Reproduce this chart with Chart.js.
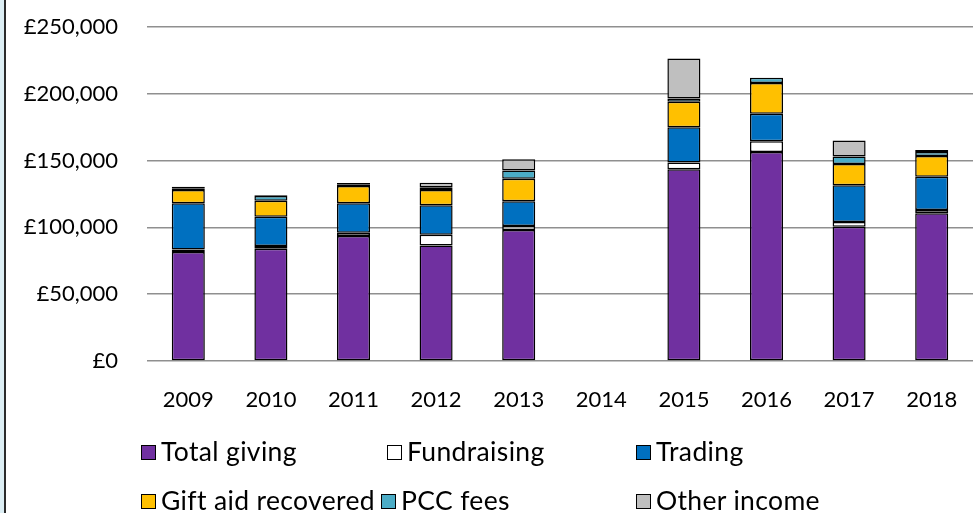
<!DOCTYPE html>
<html>
<head>
<meta charset="utf-8">
<script src="https://cdn.jsdelivr.net/npm/chart.js@4.4.1/dist/chart.umd.min.js"></script>
<style>
  html, body { margin: 0; padding: 0; background: #fff; }
  #wrap { position: relative; width: 974px; height: 513px; overflow: hidden; }
  #frame { position: absolute; left: 0; top: 0; width: 4px; height: 513px; background: #DCEEF4; border-right: 2px solid #2b2b2b; }
  canvas { position: absolute; left: 0; top: 0; }
  .leg { position: absolute; font-family: Lato, sans-serif; font-size: 26.5px; letter-spacing: 0.35px; color: #000; white-space: nowrap; line-height: 30px; }
  .leg i { display: inline-block; width: 13px; height: 13px; border: 1.5px solid #000; vertical-align: middle; margin-right: 5px; position: relative; top: -2px; }
</style>
</head>
<body>
<div id="wrap">
  <canvas id="c" width="974" height="513"></canvas>
  <div id="frame"></div>
  <div id="legend"></div>
</div>
<script>
const years = ['2009','2010','2011','2012','2013','2014','2015','2016','2017','2018'];
const totalGiving = [81500, 84000, 93500, 86500, 98000, null, 143500, 156500, 100500, 110500];
const fundraising = [2000, 2000, 2500, 8000, 3000, null, 5000, 8000, 3500, 2500];
const trading     = [34500, 22000, 22000, 22000, 18500, null, 26500, 20500, 27500, 25000];
const giftAid     = [10000, 12000, 13000, 11500, 17000, null, 19000, 23000, 16000, 15500];
const pccFees     = [1000, 3500, 1000, 2000, 6000, null, 2500, 4000, 5500, 3000];
const otherIncome = [1500, 500, 1200, 3500, 8500, null, 30000, 0, 12000, 1500];
const yTicks = [0, 50000, 100000, 150000, 200000, 250000];

const seriesNames = ['Total giving','Fundraising','Trading','Gift aid recovered','PCC fees','Other income'];
const seriesData = [totalGiving, fundraising, trading, giftAid, pccFees, otherIncome];
const seriesColors = ['#7030A0','#FFFFFF','#0070C0','#FFC000','#4BACC6','#BFBFBF'];

const datasets = seriesNames.map((n, i) => ({
  label: n,
  data: seriesData[i],
  backgroundColor: seriesColors[i],
  borderColor: '#000',
  borderWidth: 1.5,
  borderSkipped: false,
  categoryPercentage: 1.0,
  barPercentage: 0.4
}));

const chart = new Chart(document.getElementById('c'), {
  type: 'bar',
  data: { labels: years, datasets },
  options: {
    responsive: false,
    animation: false,
    devicePixelRatio: 1,
    layout: { padding: { left: 0, right: 1, top: 27, bottom: 102 } },
    plugins: { legend: { display: false }, tooltip: { enabled: false } },
    scales: {
      x: {
        stacked: true,
        grid: { display: false },
        border: { display: false },
        ticks: { color: '#000', font: { family: 'Lato', size: 22 }, padding: 18, maxRotation: 0 },
        afterFit: s => { s.height = 50; s.paddingLeft = 0; s.paddingRight = 0; }
      },
      y: {
        stacked: true,
        min: 0, max: 250000,
        afterBuildTicks: s => { s.ticks = yTicks.map(v => ({ value: v })); },
        grid: { color: '#8f8f8f', lineWidth: 1.5, drawTicks: false },
        border: { display: false },
        ticks: {
          color: '#000', font: { family: 'Lato', size: 22 }, padding: 29,
          callback: v => '£' + Number(v).toLocaleString('en-GB')
        },
        afterFit: s => { s.width = 147; s.paddingTop = 0; s.paddingBottom = 0; }
      }
    }
  }
});

// HTML legend built from chart datasets
const legPos = [[141, 436], [387, 436], [636, 436], [141, 485], [381, 485], [636, 485]];
const legend = document.getElementById('legend');
chart.data.datasets.forEach((ds, i) => {
  const d = document.createElement('div');
  d.className = 'leg';
  d.style.left = legPos[i][0] + 'px';
  d.style.top = legPos[i][1] + 'px';
  const box = document.createElement('i');
  box.style.background = ds.backgroundColor;
  d.appendChild(box);
  d.appendChild(document.createTextNode(ds.label));
  legend.appendChild(d);
});
</script>
</body>
</html>
